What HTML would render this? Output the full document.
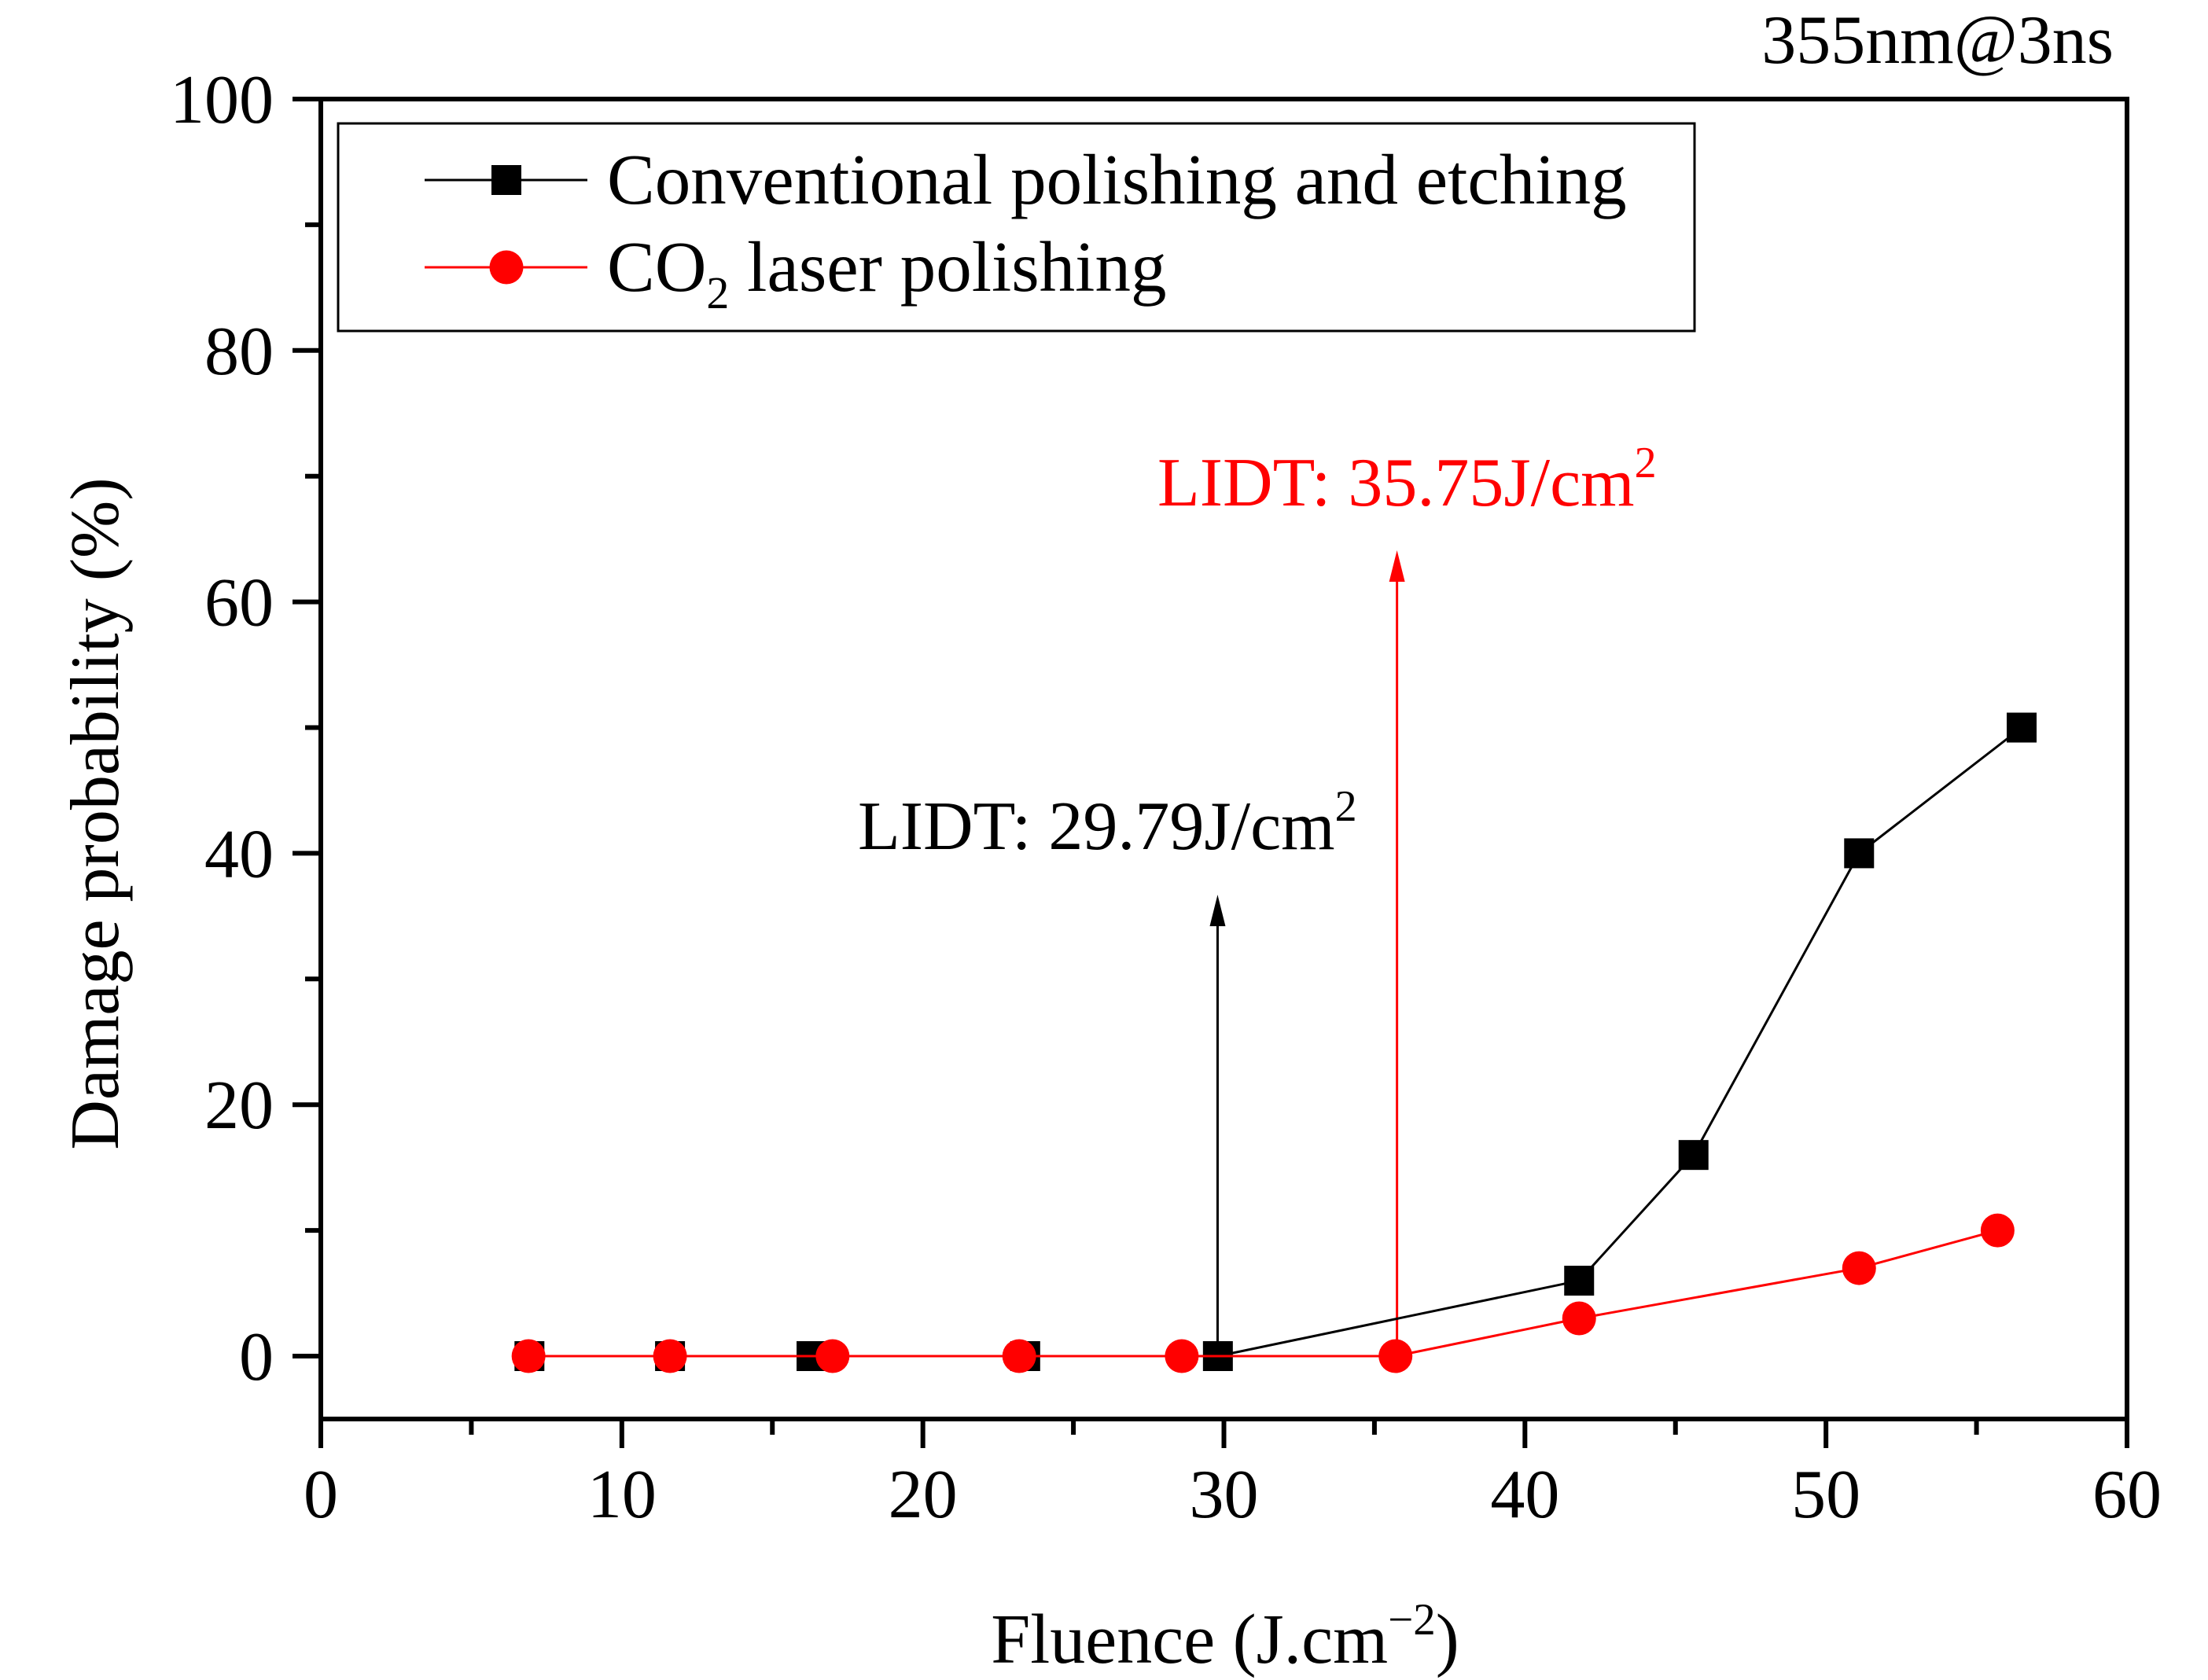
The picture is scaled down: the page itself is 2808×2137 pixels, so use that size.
<!DOCTYPE html>
<html><head><meta charset="utf-8"><style>
html,body{margin:0;padding:0;background:#fff}
svg{display:block;font-family:"Liberation Serif",serif}
</style></head><body>
<svg id="chart" width="2808" height="2137" viewBox="0 0 2808 2137">
<g id="axes"></g><g id="marks"></g>
<g>
<rect x="430" y="157" width="1725" height="264" fill="#fff" stroke="#000" stroke-width="3"/>
<g>
<line x1="540" x2="747" y1="229" y2="229" stroke="#000" stroke-width="3"/>
<rect x="625" y="210" width="38" height="38" fill="#000"/>
<text x="772" y="259" font-size="91">Conventional polishing and etching</text></g>
<g>
<line x1="540" x2="747" y1="340" y2="340" stroke="#f00" stroke-width="3"/>
<circle cx="644" cy="340" r="21.5" fill="#f00"/>
<text x="772" y="370" font-size="91">CO<tspan font-size="58" dy="22">2</tspan><tspan dy="-22"> laser polishing</tspan></text></g>
</g>
<text x="1091" y="1080" font-size="88">LIDT: 29.79J/cm<tspan font-size="56" dy="-36">2</tspan></text>
<text x="1472" y="643" font-size="88" fill="#f00">LIDT: 35.75J/cm<tspan font-size="56" dy="-36">2</tspan></text>
<text x="2688" y="80" font-size="88" text-anchor="end">355nm@3ns</text>
<text x="1558" y="2115" font-size="90" text-anchor="middle">Fluence (J.cm<tspan font-size="57" dy="-36">−2</tspan><tspan dy="36">)</tspan></text>
<text transform="translate(150,1035) rotate(-90)" font-size="88" text-anchor="middle">Damage probability (%)</text>
</svg>
<script>
const xTicks=[0,10,20,30,40,50,60];
const yTicks=[0,20,40,60,80,100];
const convX=[6.93,11.6,16.3,23.4,29.8,41.8,45.6,51.1,56.5];
const convY=[0,0,0,0,0,6,16,40,50];
const co2X=[6.9,11.6,17.0,23.2,28.6,35.7,41.8,51.1,55.7];
const co2Y=[0,0,0,0,0,0,3,7,10];
const lidtConv=[29.79,36.7];
const lidtCo2=[35.75,64.1];

const L=408,R=2705,T=126,B=1805,Y0=1725,Y100=126;
const sx=v=>L+(v-0)/60*(R-L);
const sy=v=>Y0+(v-0)/100*(Y100-Y0);
const NS="http://www.w3.org/2000/svg";
const ax=document.getElementById('axes'),mk=document.getElementById('marks');
function el(t,a,p){const e=document.createElementNS(NS,t);for(const k in a)e.setAttribute(k,a[k]);(p||ax).appendChild(e);return e;}

let e=el('rect',{x:L,y:T,width:R-L,height:B-T,fill:'none',stroke:'#000','stroke-width':6});



xTicks.forEach(v=>{
 let t=el('line',{x1:sx(v),x2:sx(v),y1:B,y2:B+37,stroke:'#000','stroke-width':6});
 
 
 let l=el('text',{x:sx(v),y:1930,'font-size':88,'text-anchor':'middle'});l.textContent=v;
 
 
 if(v<60){let m=el('line',{x1:sx(v+5),x2:sx(v+5),y1:B,y2:B+20,stroke:'#000','stroke-width':6});
 
 }
});
yTicks.forEach(v=>{
 let t=el('line',{x1:L-36,x2:L,y1:sy(v),y2:sy(v),stroke:'#000','stroke-width':6});
 
 
 let l=el('text',{x:348,y:sy(v)+30,'font-size':88,'text-anchor':'end'});l.textContent=v;
 
 
 if(v<100){let m=el('line',{x1:L-20,x2:L,y1:sy(v+10),y2:sy(v+10),stroke:'#000','stroke-width':6});
 
 }
});

function arrow(d,color,name){
 let g=el('g',{},mk);
 
 
 const x=sx(d[0]),y1=sy(0),y2=sy(d[1]);
 el('line',{x1:x,x2:x,y1:y1,y2:y2+30,stroke:color,'stroke-width':3},g);
 el('polygon',{points:`${x-10},${y2+40} ${x},${y2} ${x+10},${y2+40}`,fill:color},g);
}
arrow(lidtConv,'#000','lidt-conventional-arrow');
arrow(lidtCo2,'#f00','lidt-co2-arrow');

function series(X,Y,color,shape,name){
 let g=el('g',{},mk);
 
 
 el('polyline',{points:X.map((x,i)=>sx(x)+','+sy(Y[i])).join(' '),fill:'none',stroke:color,'stroke-width':3},g);
 X.forEach((x,i)=>{
  let m=shape==='sq'?el('rect',{x:sx(x)-19,y:sy(Y[i])-19,width:38,height:38,fill:color},g)
                   :el('circle',{cx:sx(x),cy:sy(Y[i]),r:21.5,fill:color},g);
  
  
 });
}
series(convX,convY,'#000','sq','conventional-series');
series(co2X,co2Y,'#f00','ci','co2-series');
</script>
</body></html>
